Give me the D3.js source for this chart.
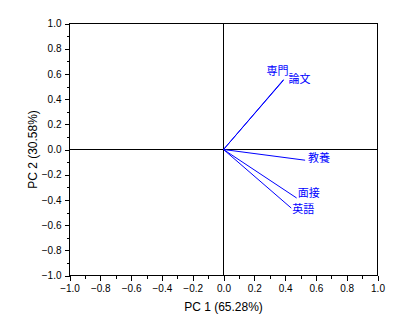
<!DOCTYPE html>
<html>
<head>
<meta charset="utf-8">
<script src="https://cdn.jsdelivr.net/npm/d3@7"></script>
<style>
  html, body { margin: 0; padding: 0; background: #fff; }
  svg { display: block; }
  .tick text { font-family: "Liberation Sans", Arial, sans-serif; font-size: 10px; fill: #000; }
</style>
</head>
<body>
<svg id="chart" width="410" height="331"></svg>
<script>
// Loading vectors (PC 1, PC 2) for each variable
const variables = ["専門", "論文", "教養", "面接", "英語"];
const pc1 = [0.39, 0.39, 0.53, 0.475, 0.44];
const pc2 = [0.555, 0.55, -0.085, -0.385, -0.465];

const tickValues = [-1.0, -0.8, -0.6, -0.4, -0.2, 0.0, 0.2, 0.4, 0.6, 0.8, 1.0];
const minorTickValues = d3.range(-10, 11).map(d => d / 10);
const xTitle = "PC 1 (65.28%)";
const yTitle = "PC 2 (30.58%)";

const svg = d3.select("#chart");
const blue = "#0000ff";
const fmt = d => (d < 0 ? "\u2212" : "") + Math.abs(d).toFixed(1);

const x = d3.scaleLinear().domain([-1, 1]).range([69.5, 377.5]);
const y = d3.scaleLinear().domain([-1, 1]).range([275.5, 23.5]);

// Frame
svg.append("rect")
  .attr("x", x(-1)).attr("y", y(1))
  .attr("width", x(1) - x(-1)).attr("height", y(-1) - y(1))
  .attr("fill", "none").attr("stroke", "#000").attr("shape-rendering", "crispEdges");

// Minor ticks
svg.append("g").attr("transform", `translate(0,${y(-1)})`)
  .call(d3.axisBottom(x).tickValues(minorTickValues).tickSize(3).tickFormat(""))
  .call(g => g.select(".domain").remove())
  .attr("shape-rendering", "crispEdges");
svg.append("g").attr("transform", `translate(${x(-1)},0)`)
  .call(d3.axisLeft(y).tickValues(minorTickValues).tickSize(3).tickFormat(""))
  .call(g => g.select(".domain").remove())
  .attr("shape-rendering", "crispEdges");

// Major ticks and labels
svg.append("g").attr("transform", `translate(0,${y(-1)})`)
  .call(d3.axisBottom(x).tickValues(tickValues).tickSize(5).tickPadding(4).tickFormat(fmt))
  .call(g => g.select(".domain").remove())
  .call(g => g.selectAll("line").attr("shape-rendering", "crispEdges"));
svg.append("g").attr("transform", `translate(${x(-1)},0)`)
  .call(d3.axisLeft(y).tickValues(tickValues).tickSize(5).tickPadding(3).tickFormat(fmt))
  .call(g => g.select(".domain").remove())
  .call(g => g.selectAll("line").attr("shape-rendering", "crispEdges"));

// Zero lines
svg.append("line")
  .attr("x1", x(-1)).attr("x2", x(1)).attr("y1", y(0)).attr("y2", y(0))
  .attr("stroke", "#000").attr("shape-rendering", "crispEdges");
svg.append("line")
  .attr("x1", x(0)).attr("x2", x(0)).attr("y1", y(-1)).attr("y2", y(1))
  .attr("stroke", "#000").attr("shape-rendering", "crispEdges");

// Axis titles
svg.append("text")
  .attr("x", x(0)).attr("y", 311)
  .attr("text-anchor", "middle")
  .attr("font-family", "Liberation Sans, Arial, sans-serif").attr("font-size", 12)
  .text(xTitle);
svg.append("text")
  .attr("transform", `translate(37,${y(0)}) rotate(-90)`)
  .attr("text-anchor", "middle")
  .attr("font-family", "Liberation Sans, Arial, sans-serif").attr("font-size", 12)
  .text(yTitle);

// Loading vectors
const data = variables.map((name, i) => ({ name, px: pc1[i], py: pc2[i] }));
svg.append("g").selectAll("line").data(data).join("line")
  .attr("x1", x(0)).attr("y1", y(0))
  .attr("x2", d => x(d.px)).attr("y2", d => y(d.py))
  .attr("stroke", blue).attr("stroke-width", 1);

// Label offsets relative to each vector tip
const labelOffset = {
  "専門": [-17, -5],
  "論文": [5, 3],
  "教養": [3, 2],
  "面接": [1, -1],
  "英語": [1, 5]
};
svg.append("g").selectAll("text").data(data).join("text")
  .attr("x", d => x(d.px) + labelOffset[d.name][0])
  .attr("y", d => y(d.py) + labelOffset[d.name][1])
  .attr("font-family", "Noto Sans CJK JP, sans-serif").attr("font-size", 11)
  .attr("fill", blue)
  .text(d => d.name);
</script>
</body>
</html>
